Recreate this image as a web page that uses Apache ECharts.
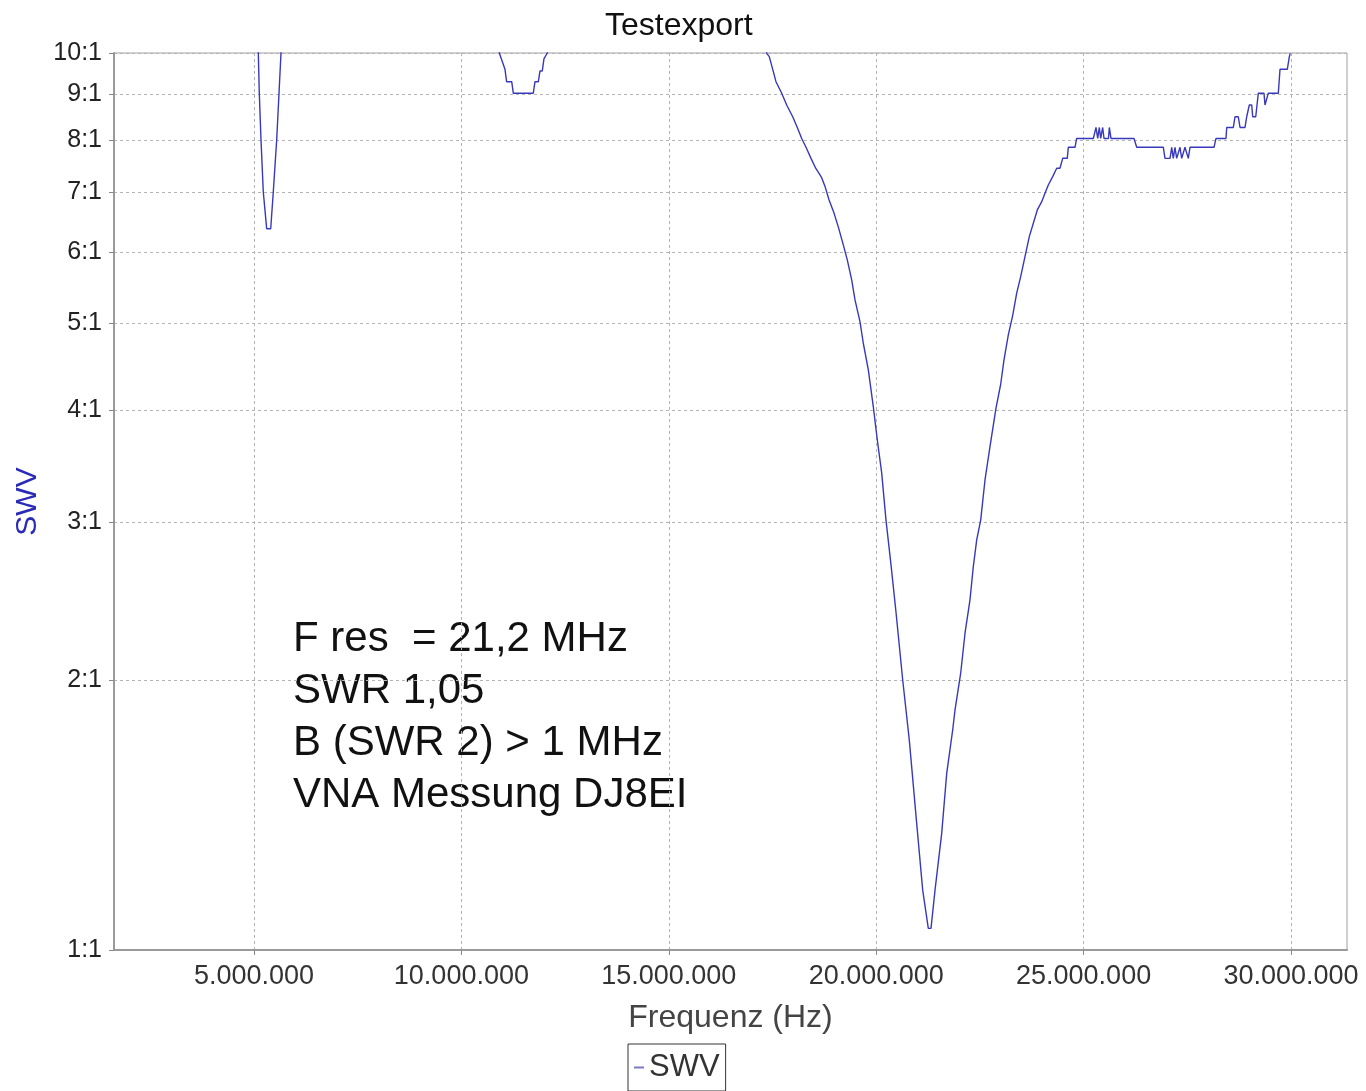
<!DOCTYPE html>
<html>
<head>
<meta charset="utf-8">
<title>Testexport</title>
<script src="https://cdn.jsdelivr.net/npm/echarts@6.0.0/dist/echarts.min.js"></script>
<style>
  html, body { margin: 0; padding: 0; background: #fff; }
  #chart { width: 1366px; height: 1091px; }
</style>
</head>
<body>
<div id="chart"></div>
<script>
const freqMHz = [
  1.62, 3.0, 5.08, 5.104, 5.128, 5.169, 5.224, 5.306, 5.403, 5.465, 5.547, 5.603, 5.651, 5.68,
  8.0, 10.88, 10.914, 11.051, 11.09, 11.213, 11.251, 11.733, 11.774, 11.855, 11.895, 11.95, 11.99, 12.07, 12.1,
  15.0, 17.33, 17.36, 17.423, 17.505, 17.584, 17.722, 17.842, 17.987, 18.098, 18.204, 18.308, 18.428,
  18.541, 18.686, 18.766, 18.862, 18.983, 19.086, 19.207, 19.303, 19.409, 19.489, 19.609, 19.689,
  19.810, 19.930, 20.027, 20.133, 20.236, 20.357, 20.477, 20.639, 20.798, 20.976, 21.121, 21.256,
  21.321, 21.418, 21.579, 21.700, 21.844, 21.900, 22.037, 22.141, 22.261, 22.341, 22.423, 22.519,
  22.623, 22.743, 22.888, 23.0, 23.081, 23.185, 23.291, 23.387, 23.483, 23.587, 23.691, 23.788,
  23.884, 23.990, 24.069, 24.149, 24.255, 24.351, 24.43, 24.496, 24.607, 24.631, 24.793, 24.833,
  25.234, 25.258, 25.299, 25.340, 25.379, 25.412, 25.460, 25.492, 25.60, 25.620, 25.661, 26.215,
  26.280, 26.922, 26.962, 27.083, 27.124, 27.162, 27.203, 27.244, 27.324, 27.365, 27.444, 27.524,
  27.565, 28.144, 28.192, 28.433, 28.450, 28.609, 28.650, 28.729, 28.771, 28.891, 28.932, 28.995,
  29.053, 29.077, 29.15, 29.212, 29.349, 29.373, 29.453, 29.694, 29.735, 29.911, 29.959, 29.98
];
const swv = [
  35, 40, 14, 10.0, 9.02, 8.0, 7.0, 6.37, 6.37, 7.0, 8.0, 9.02, 10.0, 14,
  40, 14, 10.0, 9.59, 9.29, 9.29, 9.02, 9.02, 9.29, 9.29, 9.55, 9.55, 9.85, 10.0, 14,
  40, 14, 9.99, 9.906, 9.59, 9.29, 9.017, 8.75, 8.49, 8.26, 8.03, 7.85, 7.63,
  7.44, 7.26, 7.10, 6.86, 6.63, 6.40, 6.11, 5.88, 5.585, 5.306, 5.017, 4.747,
  4.433, 4.035, 3.703, 3.401, 3.015, 2.687, 2.381, 2.0, 1.714, 1.384, 1.166, 1.057,
  1.057, 1.166, 1.349, 1.574, 1.759, 1.852, 2.035, 2.255, 2.457, 2.676, 2.865, 3.015,
  3.342, 3.640, 4.018, 4.27, 4.548, 4.85, 5.10, 5.398, 5.632, 5.929, 6.242, 6.46,
  6.684, 6.828, 6.976, 7.126, 7.28, 7.44, 7.44, 7.631, 7.631, 7.85, 7.85, 8.03,
  8.03, 8.03, 8.26, 8.03, 8.26, 8.03, 8.26, 8.03, 8.03, 8.26, 8.03, 8.03,
  7.85, 7.85, 7.63, 7.63, 7.85, 7.63, 7.85, 7.63, 7.85, 7.63, 7.85, 7.63,
  7.85, 7.85, 8.03, 8.03, 8.26, 8.26, 8.49, 8.49, 8.26, 8.26, 8.49, 8.75,
  8.75, 8.49, 8.49, 9.02, 9.02, 8.75, 9.02, 9.02, 9.59, 9.59, 9.90, 9.99
];
const xTicks = [5e6, 10e6, 15e6, 20e6, 25e6, 30e6];
const yTicks = [1, 2, 3, 4, 5, 6, 7, 8, 9, 10];
const noteLines = ['F res  = 21,2 MHz', 'SWR 1,05', 'B (SWR 2) > 1 MHz', 'VNA Messung DJ8EI'];

const FONT = '"Liberation Sans", Arial, sans-serif';

// 5000000 -> 5.000.000
function fmtHz(v) {
  return String(Math.round(v)).replace(/\B(?=(\d{3})+(?!\d))/g, '.');
}

const chart = echarts.init(document.getElementById('chart'));
const points = freqMHz.map((f, i) => [f * 1e6, swv[i]]);

chart.setOption({
  animation: false,
  backgroundColor: '#fff',
  textStyle: { fontFamily: FONT },
  title: {
    text: 'Testexport',
    left: 600,
    top: 5,
    textStyle: { fontFamily: FONT, fontSize: 32, fontWeight: 'normal', color: '#111' }
  },
  legend: {
    data: ['SWV'],
    left: 628,
    top: 1044,
    icon: 'rect',
    itemWidth: 10,
    itemHeight: 2,
    padding: [8, 6],
    borderColor: '#333',
    borderWidth: 1,
    textStyle: { fontFamily: FONT, fontSize: 31, color: '#333' }
  },
  grid: {
    left: 114, right: 19, top: 53, bottom: 141,
    show: true,
    borderColor: '#a0a0a0',
    borderWidth: 1,
    outerBoundsMode: 'none'
  },
  xAxis: {
    type: 'value',
    min: 1.625e6,
    max: 31.35e6,
    name: 'Frequenz (Hz)',
    nameLocation: 'middle',
    nameGap: 52,
    nameTextStyle: { fontFamily: FONT, fontSize: 32, color: '#444' },
    axisLine: { lineStyle: { color: '#9a9a9a', width: 2 } },
    axisTick: { show: true, length: 5, customValues: xTicks, lineStyle: { color: '#888' } },
    axisLabel: {
      customValues: xTicks,
      margin: 13,
      fontSize: 27,
      color: '#333',
      formatter: v => fmtHz(v)
    },
    splitLine: { show: true, lineStyle: { color: '#b4b4b4', type: [3, 3] } }
  },
  yAxis: {
    type: 'log',
    logBase: 10,
    min: 1,
    max: 10,
    name: 'SWV',
    nameLocation: 'middle',
    nameGap: 69,
    nameTextStyle: { fontFamily: FONT, fontSize: 30, color: '#2a2ab8' },
    axisLine: { show: true, lineStyle: { color: '#9a9a9a', width: 2 } },
    axisTick: { show: true, length: 5, customValues: yTicks, lineStyle: { color: '#888' } },
    axisLabel: {
      customValues: yTicks,
      margin: 12,
      fontSize: 25,
      color: '#222',
      formatter: v => Math.round(v) + ':1'
    },
    splitLine: { show: true, lineStyle: { color: '#b4b4b4', type: [3, 3] } }
  },
  graphic: [{
    type: 'text',
    left: 293,
    top: 613,
    style: {
      text: noteLines.join('\n'),
      font: '42px ' + FONT,
      lineHeight: 52,
      fill: '#111'
    }
  }],
  series: [{
    name: 'SWV',
    type: 'line',
    data: points,
    showSymbol: false,
    clip: true,
    lineStyle: { color: '#3838bc', width: 1.4 },
    itemStyle: { color: '#7a7ac4' }
  }]
});

window.addEventListener('resize', () => chart.resize());
</script>
</body>
</html>
